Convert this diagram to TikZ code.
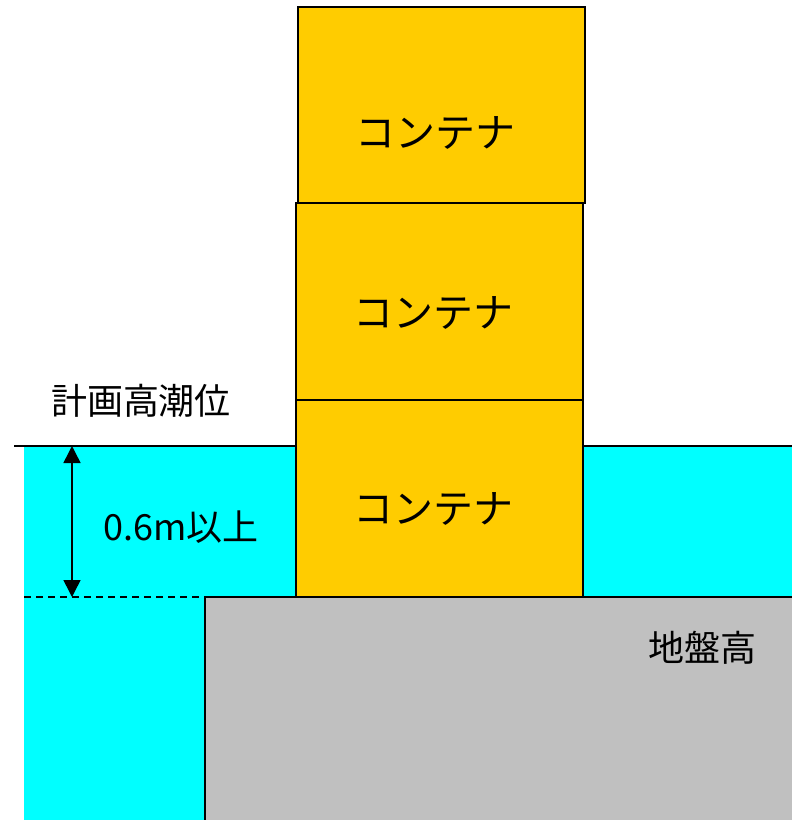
\documentclass[tikz,border=0pt]{standalone}
\usepackage{fontspec}
\setmainfont{Noto Sans CJK JP}
\usetikzlibrary{arrows.meta, positioning}
\definecolor{seawater}{HTML}{00FFFF}
\definecolor{boxfill}{HTML}{FFCC00}
\definecolor{groundfill}{HTML}{C0C0C0}

\begin{document}
\begin{tikzpicture}[x=1pt, y=-1pt,
    box/.style={draw, line width=1.5pt, fill=boxfill, inner sep=0pt, outer sep=0pt,
      minimum width=287pt, minimum height=197pt},
    arr/.style={{Triangle[length=17pt,width=17pt]}-{Triangle[length=17pt,width=17pt]}, line width=1.5pt},
    lab/.style={font=\fontsize{36}{40}\selectfont, inner sep=0pt},
    boxlab/.style={font=\fontsize{40}{44}\selectfont, inner sep=0pt}
  ]
    \useasboundingbox (0,0) rectangle (797,820);
    % water and ground
    \fill[seawater] (24,446) rectangle (792,820);
    \fill[groundfill] (205,597) rectangle (792,820);
    \draw[line width=1.5pt] (205,820) -- (205,597) -- (792,597);
    \draw[line width=1.5pt] (14,446) -- (792,446);
    \draw[line width=1.2pt, dash pattern=on 7pt off 5pt] (24,597) -- (205,597);
    % containers
    \node[box] (C1) at (439.5,498.5) {};
    \node[box, above=0pt of C1] (C2) {};
    \node[box, above=0pt of C2, xshift=2pt, minimum height=196pt] (C3) {};
    \node[boxlab] (T1) at ([shift={(-6,10)}]C1.center) {コンテナ};
    \node[boxlab] (T2) at ([shift={(-6,11)}]C2.center) {コンテナ};
    \node[boxlab] (T3) at ([shift={(-6,28)}]C3.center) {コンテナ};
    % dimension
    \coordinate (hwl) at (72,446);
    \coordinate (gl) at (72,597);
    \draw[arr] (hwl) -- (gl);
    \node[lab] (L1) at (141,401) {計画高潮位};
    \node[lab] (L2) at (181,527) {0.6m以上};
    \node[lab] (L3) at (702,648) {地盤高};
  \end{tikzpicture}
\end{document}
